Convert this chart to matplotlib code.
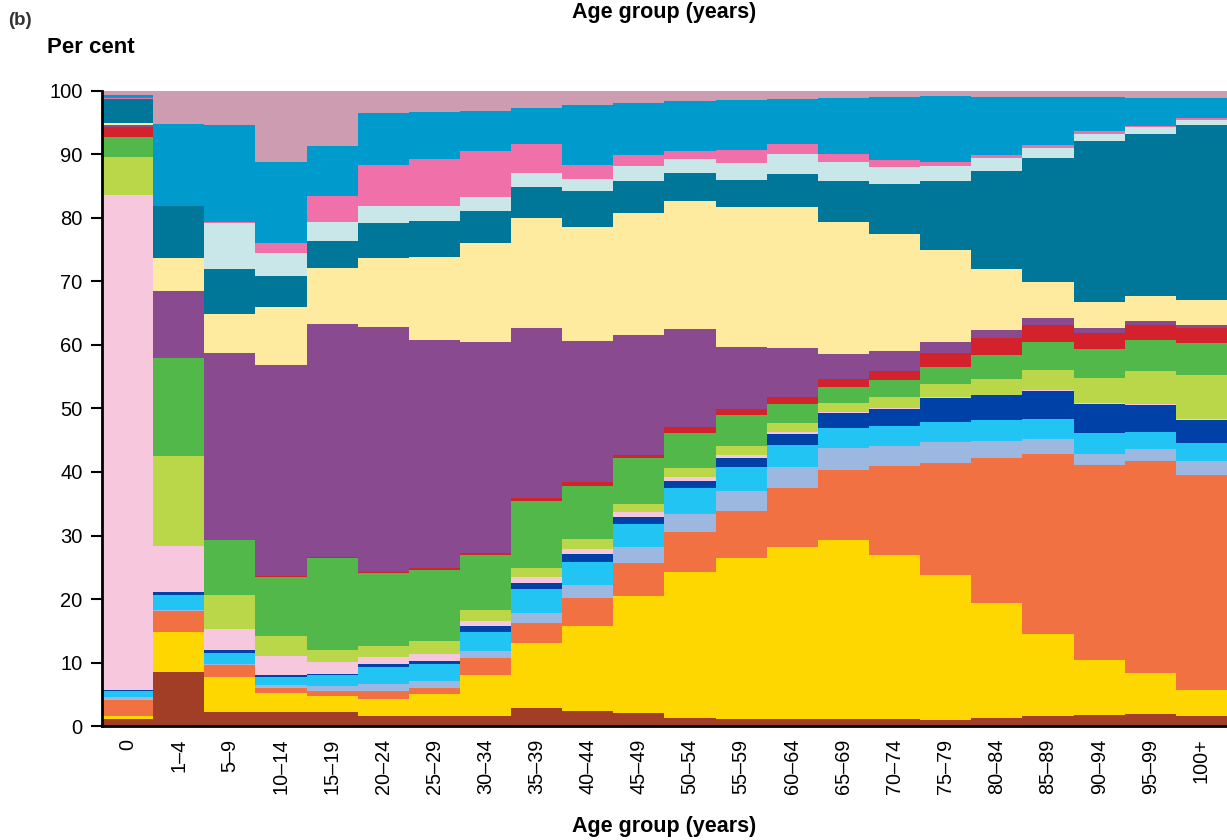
import numpy as np
import matplotlib.pyplot as plt

plt.rcParams['font.family'] = ['Liberation Sans', 'DejaVu Sans']

age_groups = ['0', '1–4', '5–9', '10–14', '15–19', '20–24', '25–29', '30–34',
              '35–39', '40–44', '45–49', '50–54', '55–59', '60–64', '65–69',
              '70–74', '75–79', '80–84', '85–89', '90–94', '95–99', '100+']

# Cumulative per cent reached at the top of each band (bottom band first)
rust = [1.1, 8.5, 2.2, 2.2, 2.2, 1.6, 1.6, 1.6, 2.8, 2.4, 2.0,
        1.3, 1.1, 1.1, 1.1, 1.1, 0.9, 1.3, 1.6, 1.7, 1.9, 1.6]
gold = [1.6, 14.8, 7.7, 5.2, 4.7, 4.2, 5.0, 8.0, 13.1, 15.7, 20.5,
        24.3, 26.5, 28.2, 29.3, 26.9, 23.8, 19.4, 14.5, 10.4, 8.3, 5.7]
orange = [4.1, 18.1, 9.6, 6.0, 5.5, 5.5, 6.0, 10.7, 16.2, 20.2, 25.7,
          30.6, 33.9, 37.5, 40.3, 40.9, 41.4, 42.2, 42.8, 41.1, 41.7, 39.5]
steel = [4.6, 18.3, 9.7, 6.5, 6.3, 6.6, 7.1, 11.8, 17.8, 22.2, 28.2,
         33.4, 37.0, 40.8, 43.8, 44.1, 44.7, 44.9, 45.2, 42.8, 43.6, 41.7]
cyan = [5.5, 20.6, 11.5, 7.7, 8.0, 9.3, 9.8, 14.8, 21.6, 25.8, 31.8,
        37.5, 40.8, 44.3, 46.9, 47.2, 47.9, 48.2, 48.3, 46.1, 46.3, 44.6]
navy = [5.7, 21.1, 12.0, 8.0, 8.2, 9.8, 10.2, 15.7, 22.5, 27.1, 32.9,
        38.6, 42.2, 46.0, 49.3, 49.9, 51.7, 52.1, 52.8, 50.7, 50.6, 48.2]
blush = [83.6, 28.3, 15.3, 11.0, 10.1, 10.9, 11.3, 16.5, 23.5, 27.9, 33.7,
         39.2, 42.7, 46.3, 49.4, 50.1, 51.8, 52.2, 52.9, 50.9, 50.7, 48.3]
lime = [89.6, 42.5, 20.6, 14.2, 12.0, 12.6, 13.4, 18.3, 24.9, 29.4, 35.0,
        40.6, 44.1, 47.7, 50.9, 51.8, 53.9, 54.6, 56.1, 54.8, 55.9, 55.3]
green = [92.8, 58.0, 29.3, 23.5, 26.5, 24.1, 24.6, 26.9, 35.4, 37.8, 42.2,
         46.1, 49.0, 50.7, 53.4, 54.5, 56.5, 58.4, 60.5, 59.4, 60.8, 60.3]
red = [94.3, 58.0, 29.3, 23.6, 26.6, 24.2, 24.9, 27.2, 35.9, 38.4, 42.6,
       47.1, 49.9, 51.8, 54.6, 55.9, 58.7, 61.1, 63.1, 61.9, 63.1, 62.7]
purple = [94.6, 68.5, 58.7, 56.9, 63.3, 62.8, 60.8, 60.5, 62.7, 60.6, 61.6,
          62.5, 59.7, 59.5, 58.6, 59.1, 60.5, 62.4, 64.3, 62.7, 63.8, 63.1]
cream = [95.0, 73.7, 64.9, 66.0, 72.1, 73.7, 73.9, 76.1, 80.0, 78.6, 80.8,
         82.7, 81.7, 81.7, 79.4, 77.5, 75.0, 72.0, 69.9, 66.8, 67.7, 67.1]
teal = [98.7, 81.9, 72.0, 70.9, 76.4, 79.2, 79.5, 81.1, 84.9, 84.3, 85.8,
        87.1, 86.0, 86.9, 85.8, 85.4, 85.8, 87.4, 89.4, 92.1, 93.2, 94.6]
ice = [98.7, 81.9, 79.2, 74.5, 79.4, 81.9, 81.9, 83.3, 87.1, 86.1, 88.2,
       89.3, 88.7, 90.1, 88.8, 88.0, 88.2, 89.4, 91.0, 93.2, 94.3, 95.4]
pink = [98.9, 81.9, 79.4, 76.1, 83.5, 88.3, 89.3, 90.6, 91.7, 88.3, 89.9,
        90.6, 90.7, 91.7, 90.1, 89.1, 88.8, 89.9, 91.5, 93.7, 94.5, 95.7]
sky = [99.4, 94.8, 94.6, 88.8, 91.3, 96.5, 96.7, 96.9, 97.3, 97.8, 98.1,
       98.4, 98.6, 98.7, 98.9, 99.1, 99.2, 99.1, 99.1, 99.1, 98.9, 98.9]
mauve = [100.0] * 22

bands = [rust, gold, orange, steel, cyan, navy, blush, lime, green, red,
         purple, cream, teal, ice, pink, sky, mauve]
colours = ['#A33E26', '#FED700', '#F27142', '#9CB8E0', '#22C4F3', '#0041A8',
           '#F7C8DD', '#BAD649', '#52B84A', '#D3222B', '#894A8F', '#FEEBA0',
           '#007698', '#C9E7E8', '#F070AA', '#009BCD', '#CE9CB1']

fig = plt.figure(figsize=(12.27, 8.4), dpi=100)
ax = fig.add_axes([0.0831, 0.1357, 0.9169, 0.756])

x = np.arange(len(age_groups))
lower = np.zeros(len(age_groups))
for top, colour in zip(bands, colours):
    top = np.array(top)
    ax.bar(x, top - lower, bottom=lower, width=1.0, color=colour,
           linewidth=0, antialiased=False)
    lower = top

ax.set_xlim(-0.5, len(age_groups) - 0.5)
ax.set_ylim(0, 100)
ax.set_yticks(np.arange(0, 101, 10))
ax.set_xticks(x)
ax.set_xticklabels(age_groups, rotation=90)
ax.tick_params(axis='y', length=8, width=1.5, labelsize=14.5, pad=6)
ax.tick_params(axis='x', length=0, labelsize=14.3, pad=9)
for side in ['top', 'right']:
    ax.spines[side].set_visible(False)
for side in ['left', 'bottom']:
    ax.spines[side].set_linewidth(2)
    ax.spines[side].set_color('black')

fig.text(0.0065, 0.976, '(b)', fontsize=13.5, fontweight='bold',
         color='#333333', va='center', ha='left')
fig.text(0.038, 0.943, 'Per cent', fontsize=16, fontweight='bold',
         va='center', ha='left')
fig.text(0.541, 0.985, 'Age group (years)', fontsize=15.5, fontweight='bold',
         va='center', ha='center')
fig.text(0.541, 0.016, 'Age group (years)', fontsize=15.5, fontweight='bold',
         va='center', ha='center')

fig.savefig('out.png', dpi=100)
